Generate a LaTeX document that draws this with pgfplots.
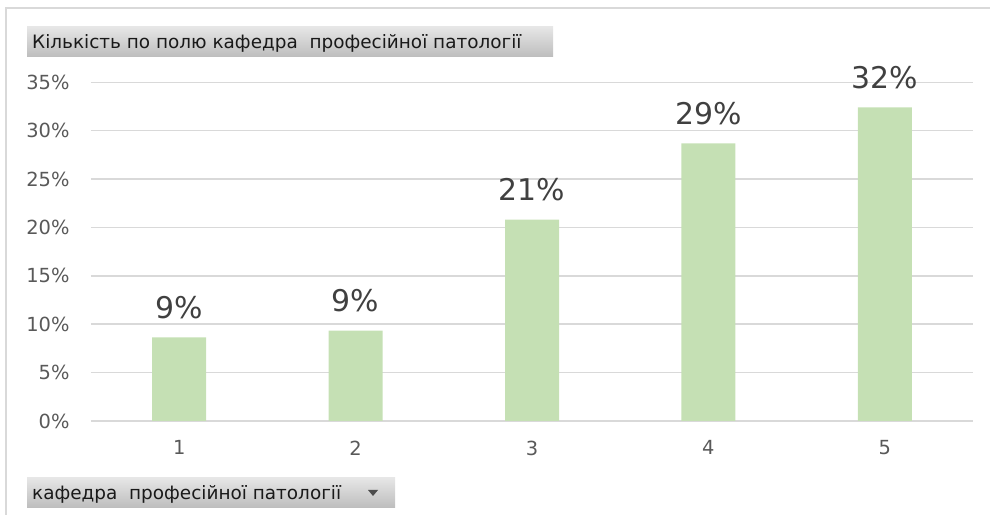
\documentclass[border=0pt]{standalone}
\usepackage{fontspec}
\setmainfont{DejaVu Sans}
\usepackage{pgfplots}
\pgfplotsset{compat=1.18}
\definecolor{barg}{HTML}{C5E0B4}
\definecolor{gridc}{HTML}{D9D9D9}
\definecolor{tickc}{HTML}{595959}
\definecolor{lblc}{HTML}{404040}
\definecolor{btntop}{HTML}{E6E6E6}
\definecolor{btnbot}{HTML}{BDBDBD}
\begin{document}
\begin{tikzpicture}
\useasboundingbox (0bp,0bp) rectangle (990bp,515bp);
\draw[gridc, line width=2bp] (6bp,0bp) -- (6bp,507bp) -- (990bp,507bp);
% title button
\shade[top color=btntop, bottom color=btnbot] (27bp,458bp) rectangle (553bp,488bp);
\node[anchor=west, inner sep=0pt, font=\fontsize{18.5}{21}\selectfont, text=black!90] at (32bp,472bp) {Кількість по полю кафедра\ \ професійної патології};
% field button
\shade[top color=btntop, bottom color=btnbot] (27bp,7bp) rectangle (395bp,37bp);
\node[anchor=west, inner sep=0pt, font=\fontsize{18.5}{21}\selectfont, text=black!90] at (32bp,21bp) {кафедра\ \ професійної патології};
\fill[black!70] (368bp,25bp) -- (378bp,25bp) -- (373bp,19bp) -- cycle;
\begin{axis}[
  at={(91bp,94bp)}, anchor=south west,
  scale only axis, width=882bp, height=338.7bp,
  xmin=0.5, xmax=5.5, ymin=0, ymax=35,
  axis line style={draw=none},
  tick style={draw=none},
  ymajorgrids, grid style={gridc, line width=1.5bp},
  xtick={1,2,3,4,5},
  ytick={0,5,10,15,20,25,30,35},
  yticklabel={\pgfmathprintnumber{\tick}\%},
  /pgf/number format/assume math mode=true,
  ticklabel style={font=\fontsize{19.5}{22}\selectfont, text=tickc},
  yticklabel style={xshift=-18bp},
  xticklabel style={yshift=-12bp},
  ybar, bar width=54bp,
  nodes near coords={\pgfmathprintnumber[fixed,precision=0]{\pgfplotspointmeta}\%},
  nodes near coords style={font=\fontsize{30}{33}\selectfont, text=lblc, anchor=south, yshift=15bp},
  clip=false,
]
\addplot[fill=barg, draw=none] coordinates {(1,8.65) (2,9.33) (3,20.8) (4,28.7) (5,32.4)};
\end{axis}
\end{tikzpicture}
\end{document}
